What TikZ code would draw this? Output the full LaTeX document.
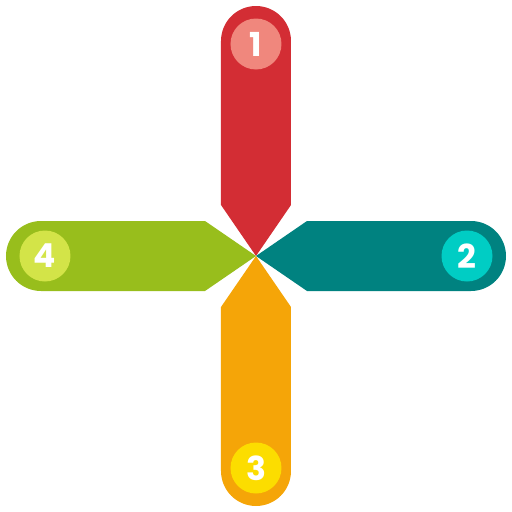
\documentclass[tikz,border=0pt]{standalone}
\usepackage{fontspec}
\setmainfont{Poppins}
\definecolor{armred}{RGB}{211,45,52}
\definecolor{dotred}{RGB}{240,135,125}
\definecolor{armteal}{RGB}{0,130,128}
\definecolor{dotteal}{RGB}{0,205,196}
\definecolor{armorange}{RGB}{245,165,8}
\definecolor{dotorange}{RGB}{252,221,0}
\definecolor{armgreen}{RGB}{152,190,28}
\definecolor{dotgreen}{RGB}{211,228,72}
\tikzset{
  numdot/.style={circle, minimum size=51pt, inner sep=0pt, text=white,
    font=\fontsize{33}{33}\selectfont\bfseries}
}
\begin{document}
\begin{tikzpicture}[x=1pt,y=1pt]
\path[use as bounding box] (-256,-256) rectangle (256,256);

% arms
\path[fill=armred] (0,0) -- (35,51) -- (35,215) arc (0:180:35) -- (-35,51) -- cycle;
\path[fill=armteal] (0,0) -- (51,-35) -- (215,-35) arc (-90:90:35) -- (51,35) -- cycle;
\path[fill=armorange] (0,0) -- (-35,-51) -- (-35,-215) arc (180:360:35) -- (35,-51) -- cycle;
\path[fill=armgreen] (0,0) -- (-51,35) -- (-215,35) arc (90:270:35) -- (-51,-35) -- cycle;

% numbers
\node[numdot, fill=dotred] (n1) at (0,212) {1};
\node[numdot, fill=dotteal] (n2) at (211,0) {2};
\node[numdot, fill=dotorange] (n3) at (0,-212) {3};
\node[numdot, fill=dotgreen] (n4) at (-211,0) {4};
\end{tikzpicture}
\end{document}
